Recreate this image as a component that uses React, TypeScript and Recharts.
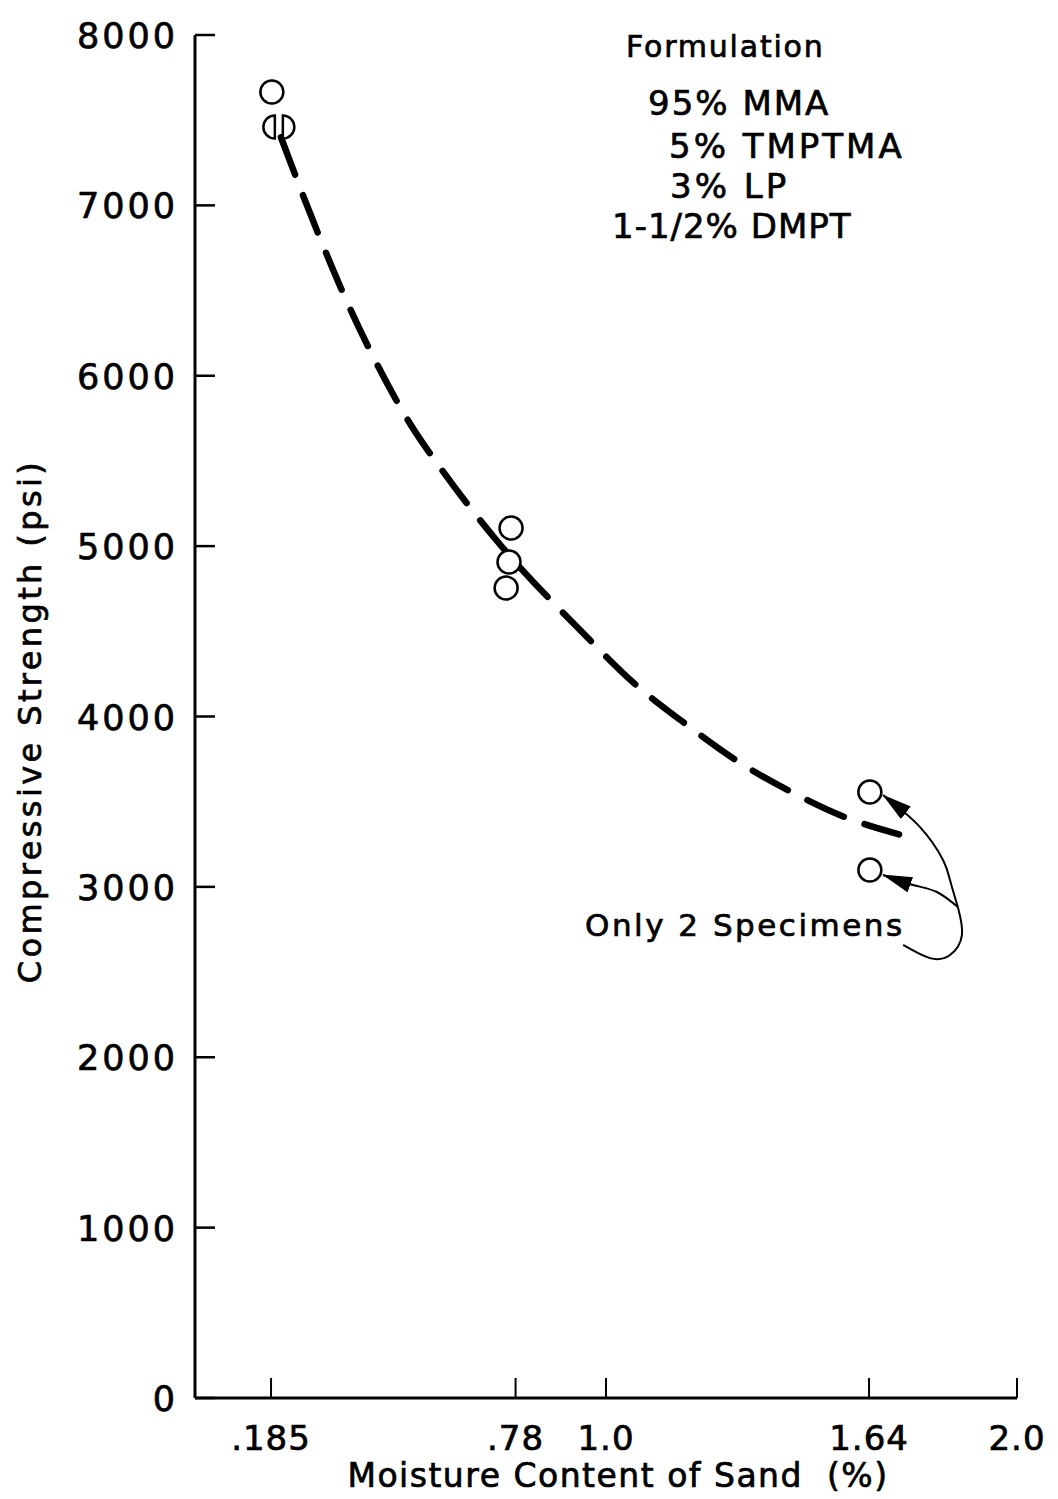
import React from 'react';
import { ComposedChart, Scatter, XAxis, YAxis } from 'recharts';

// measured specimens (moisture %, psi)
const dryPoints = [{ m: 0.187, s: 7665 }];
const splitPoints = [{ m: 0.204, s: 7460 }];
const midPoints = [
  { m: 0.769, s: 5106 },
  { m: 0.764, s: 4907 },
  { m: 0.757, s: 4754 },
];
const wetPoints = [
  { m: 1.642, s: 3557 },
  { m: 1.642, s: 3099 },
];

// dashed trend line
const trendCurve = [
  { m: 0.209, s: 7400 },
  { m: 0.302, s: 6820 },
  { m: 0.365, s: 6460 },
  { m: 0.436, s: 6100 },
  { m: 0.523, s: 5720 },
  { m: 0.606, s: 5430 },
  { m: 0.735, s: 5030 },
  { m: 0.944, s: 4490 },
  { m: 1.066, s: 4200 },
  { m: 1.197, s: 3950 },
  { m: 1.309, s: 3755 },
  { m: 1.465, s: 3540 },
  { m: 1.586, s: 3405 },
  { m: 1.713, s: 3308 },
];

// "Only 2 Specimens" pointer
const pointerLoop = [
  { m: 1.723, s: 2659 },
  { m: 1.788, s: 2582 },
  { m: 1.837, s: 2600 },
  { m: 1.866, s: 2717 },
  { m: 1.856, s: 2882 },
];
const pointerTop = [
  { m: 1.856, s: 2882 },
  { m: 1.837, s: 3040 },
  { m: 1.82, s: 3158 },
  { m: 1.764, s: 3351 },
  { m: 1.674, s: 3539 },
];
const pointerBottom = [
  { m: 1.856, s: 2882 },
  { m: 1.805, s: 2970 },
  { m: 1.747, s: 3011 },
  { m: 1.674, s: 3070 },
];

const yTicks = [0, 1000, 2000, 3000, 4000, 5000, 6000, 7000, 8000];
const xTicks = [0.185, 0.78, 1.0, 1.64, 2.0];
const xTickLabels = ['.185', '.78', '1.0', '1.64', '2.0'];
const formulationTitle = 'Formulation';
const formulationLines = ['95% MMA', '5% TMPTMA', '3% LP', '1-1/2% DMPT'];
const noteText = 'Only 2 Specimens';

const FONT = '"DejaVu Sans", sans-serif';
const INK = { fill: '#000', stroke: '#000', strokeWidth: 0.7 };

const OpenCircle = (props: any) => {
  const { cx, cy } = props;
  return <circle cx={cx} cy={cy} r={11.5} fill="#fff" stroke="#000" strokeWidth={2.5} />;
};

// two specimens overlapping, drawn as a split circle
const SplitCircle = (props: any) => {
  const { cx, cy } = props;
  const r = 11.5;
  return (
    <g fill="#fff" stroke="#000" strokeWidth={2.5}>
      <path d={`M${cx - 4},${cy - r} A${r},${r} 0 0 0 ${cx - 4},${cy + r} Z`} />
      <path d={`M${cx + 4},${cy - r} A${r},${r} 0 0 1 ${cx + 4},${cy + r} Z`} />
    </g>
  );
};

const NoDot = () => <g />;

const YTick = (props: any) => {
  const { x, y, payload } = props;
  return (
    <g>
      <line x1={x} y1={y} x2={x + 20} y2={y} stroke="#000" strokeWidth={2.5} />
      <text x={x - 17} y={y} dy={13} textAnchor="end" fontFamily={FONT} fontSize={35} letterSpacing={3} {...INK}>
        {payload.value}
      </text>
    </g>
  );
};

const XTick = (props: any) => {
  const { x, y, payload, index } = props;
  return (
    <g>
      <line x1={x} y1={y} x2={x} y2={y - 20} stroke="#000" strokeWidth={2} />
      <text x={x} y={y + 52} textAnchor="middle" fontFamily={FONT} fontSize={34} letterSpacing={1} {...INK}>
        {xTickLabels[index] ?? payload.value}
      </text>
    </g>
  );
};

export default function App() {
  return (
    <div style={{ position: 'absolute', left: 0, top: 0, width: 1058, height: 1499, background: '#fff' }}>
      <ComposedChart width={1058} height={1499} margin={{ top: 35, right: 41, left: 0, bottom: 0 }}>
        <defs>
          <marker
            id="arrowHead"
            markerUnits="userSpaceOnUse"
            markerWidth={30}
            markerHeight={16}
            refX={29}
            refY={8}
            orient="auto"
          >
            <path d="M0,0 L30,8 L0,16 Z" fill="#000" />
          </marker>
        </defs>
        <XAxis
          type="number"
          dataKey="m"
          domain={[0, 2]}
          ticks={xTicks}
          interval={0}
          height={101}
          tickSize={0}
          tickMargin={0}
          tickLine={false}
          axisLine={{ stroke: '#000', strokeWidth: 3 }}
          tick={<XTick />}
          allowDataOverflow
        />
        <YAxis
          type="number"
          dataKey="s"
          domain={[0, 8000]}
          ticks={yTicks}
          interval={0}
          width={195}
          tickSize={0}
          tickMargin={0}
          tickLine={false}
          axisLine={{ stroke: '#000', strokeWidth: 3 }}
          tick={<YTick />}
          allowDataOverflow
        />
        <Scatter
          data={trendCurve}
          shape={<NoDot />}
          line={{ stroke: '#000', strokeWidth: 6.5, strokeDasharray: '40 22', strokeLinecap: 'round' }}
          lineJointType="monotoneX"
          isAnimationActive={false}
        />
        <Scatter
          data={pointerLoop}
          shape={<NoDot />}
          line={{ stroke: '#000', strokeWidth: 2 }}
          lineJointType="natural"
          isAnimationActive={false}
        />
        <Scatter
          data={pointerTop}
          shape={<NoDot />}
          line={{ stroke: '#000', strokeWidth: 2, markerEnd: 'url(#arrowHead)' }}
          lineJointType="natural"
          isAnimationActive={false}
        />
        <Scatter
          data={pointerBottom}
          shape={<NoDot />}
          line={{ stroke: '#000', strokeWidth: 2, markerEnd: 'url(#arrowHead)' }}
          lineJointType="natural"
          isAnimationActive={false}
        />
        <Scatter data={dryPoints} shape={<OpenCircle />} isAnimationActive={false} />
        <Scatter data={splitPoints} shape={<SplitCircle />} isAnimationActive={false} />
        <Scatter data={midPoints} shape={<OpenCircle />} isAnimationActive={false} />
        <Scatter data={wetPoints} shape={<OpenCircle />} isAnimationActive={false} />
      </ComposedChart>

      {/* titles and notes */}
      <svg width={1058} height={1499} style={{ position: 'absolute', left: 0, top: 0, pointerEvents: 'none' }}>
        <g fontFamily={FONT} {...INK}>
          <text x={30} y={721} transform="rotate(-90 30 721)" textAnchor="middle" dy={11} fontSize={32} letterSpacing={3.4}>
            Compressive Strength (psi)
          </text>
          <text x={618} y={1487} textAnchor="middle" fontSize={33} letterSpacing={1.5} xmlSpace="preserve" style={{ whiteSpace: 'pre' }}>
            {'Moisture Content of Sand  (%)'}
          </text>
          <text x={626} y={57} fontSize={30} letterSpacing={1.8}>
            {formulationTitle}
          </text>
          <text x={648} y={115} fontSize={34} letterSpacing={2}>{formulationLines[0]}</text>
          <text x={669} y={158} fontSize={34} letterSpacing={3}>{formulationLines[1]}</text>
          <text x={670} y={198} fontSize={34} letterSpacing={3}>{formulationLines[2]}</text>
          <text x={612} y={238} fontSize={34} letterSpacing={1}>{formulationLines[3]}</text>
          <text x={585} y={936} fontSize={31} letterSpacing={2.5}>
            {noteText}
          </text>
        </g>
      </svg>
    </div>
  );
}
